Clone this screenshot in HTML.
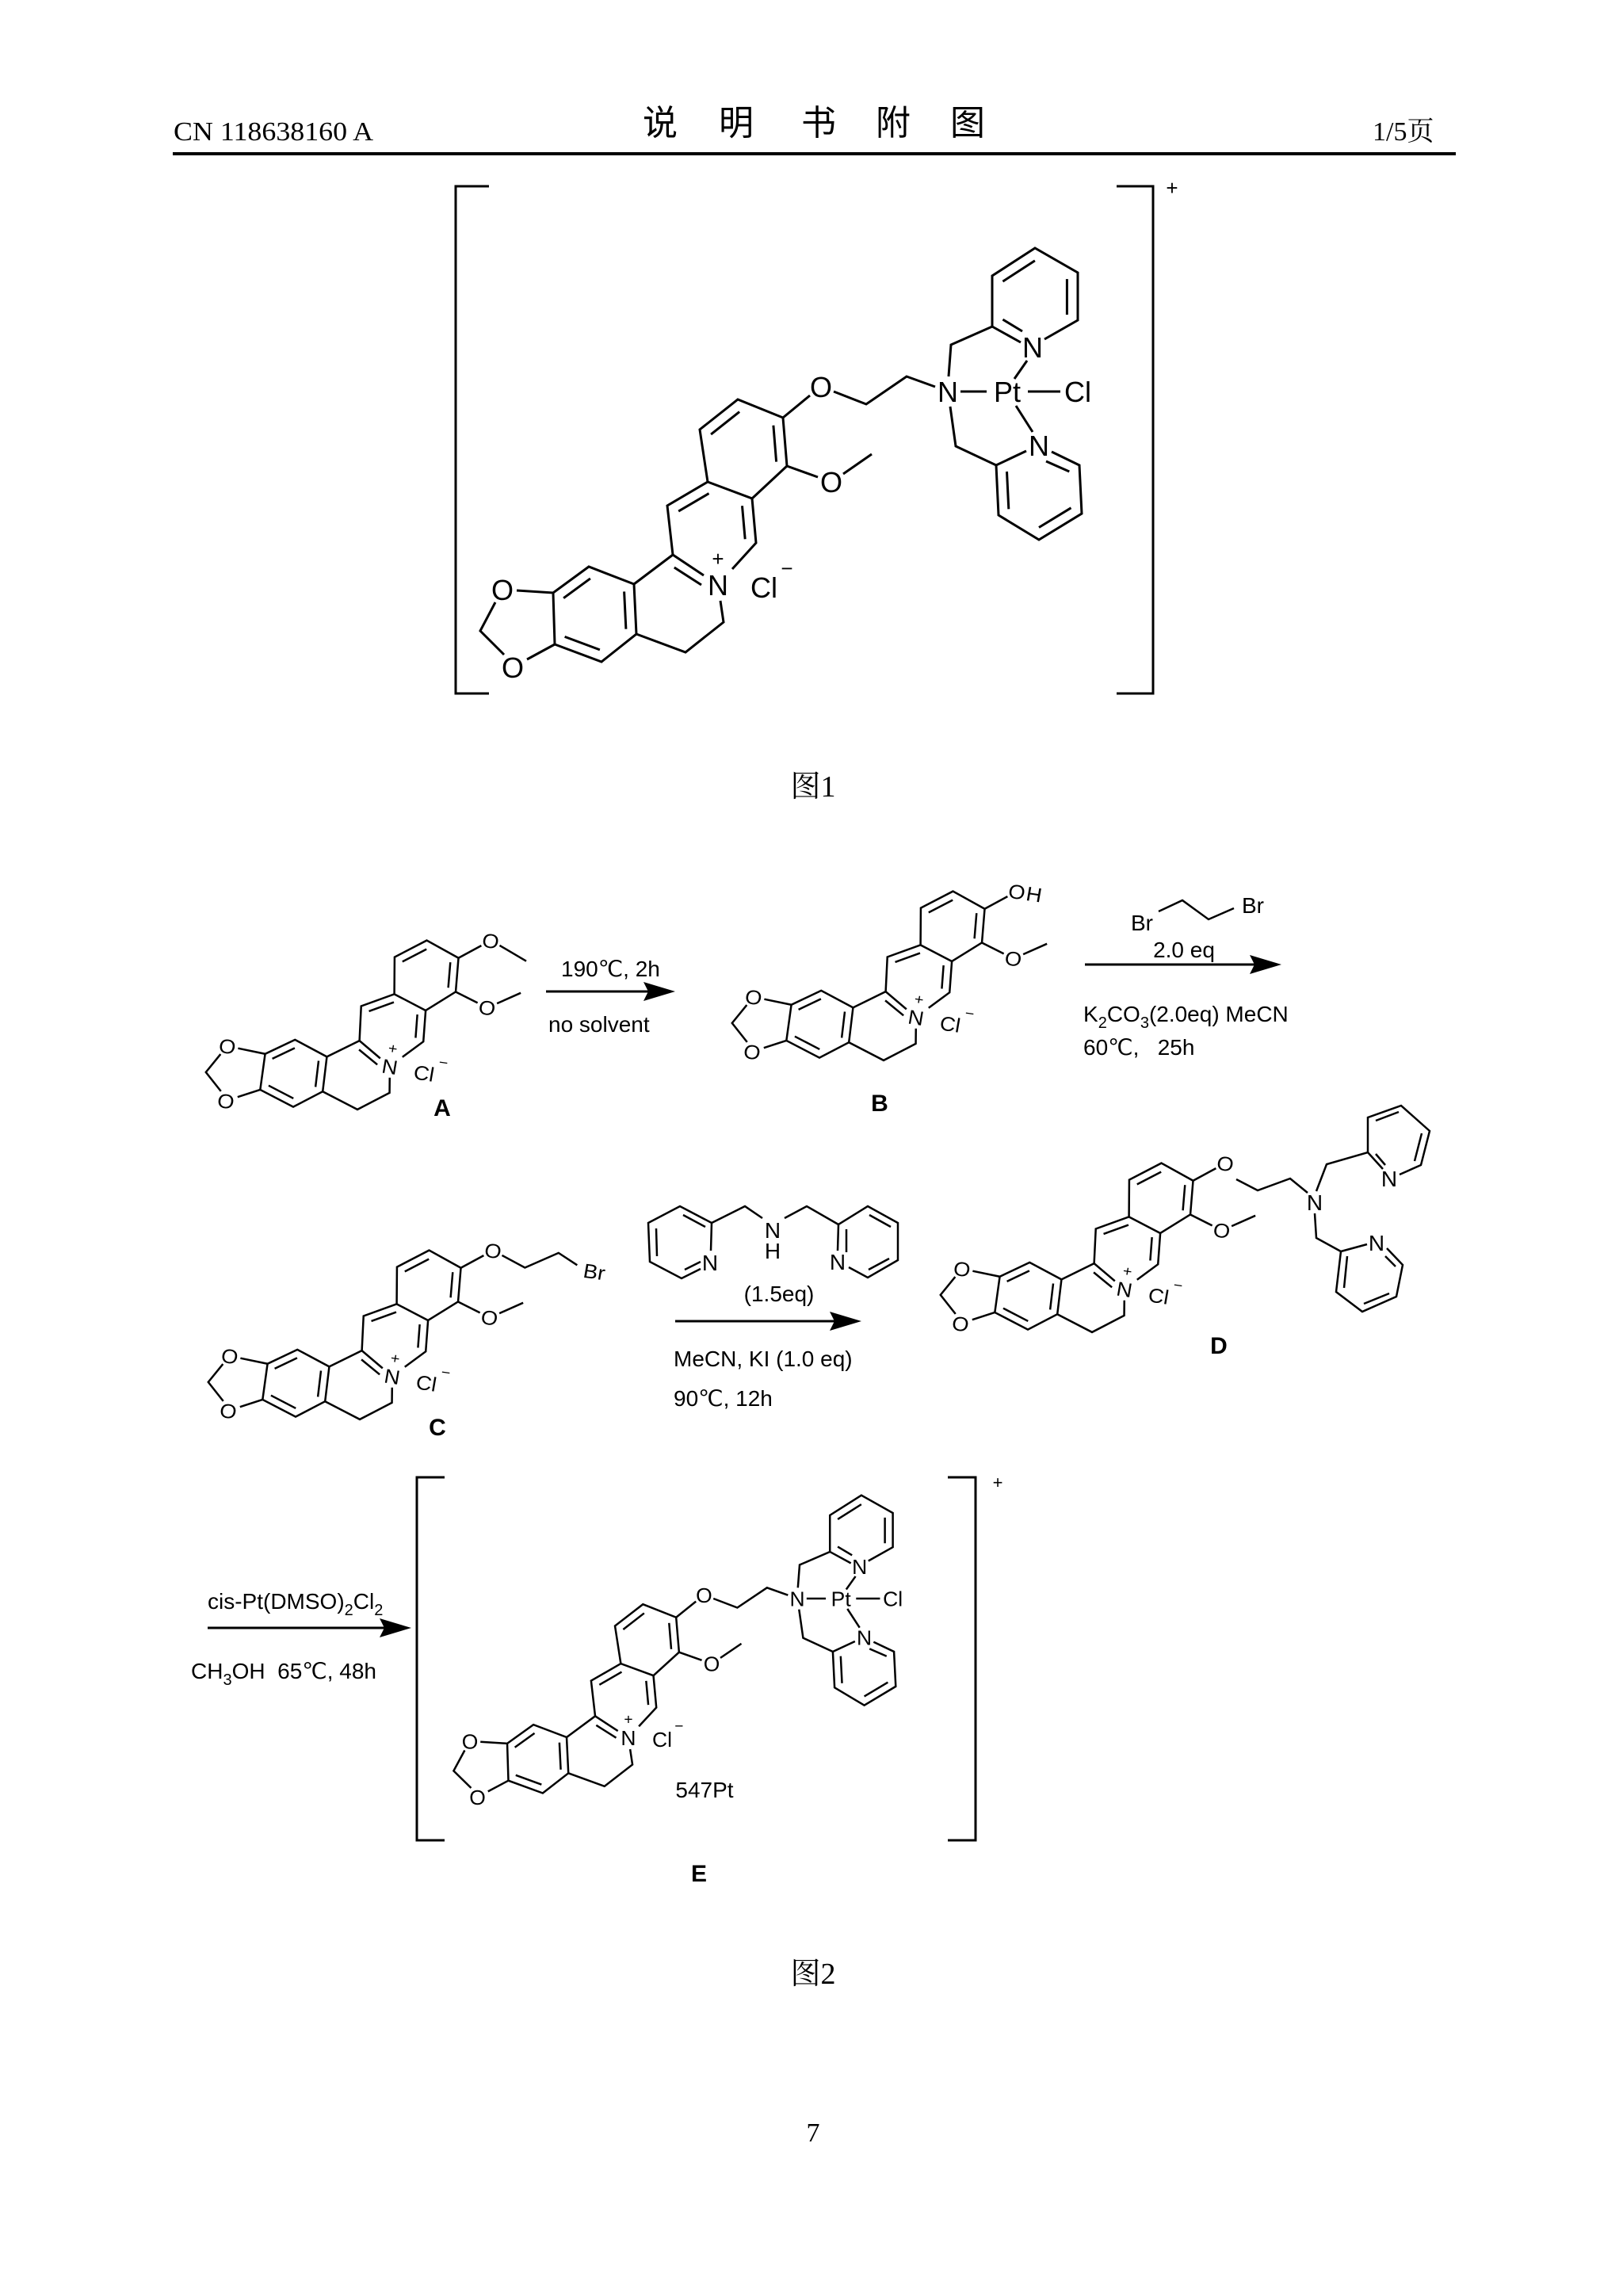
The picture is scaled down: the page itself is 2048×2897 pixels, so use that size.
<!DOCTYPE html>
<html><head><meta charset="utf-8"><style>
html,body{margin:0;padding:0;background:#fff;}
svg{display:block;}
line,polyline,polygon.b,path{vector-effect:non-scaling-stroke;}
.t{font-family:"Liberation Sans",sans-serif;fill:#000;stroke:#fff;stroke-width:7px;paint-order:stroke;stroke-linejoin:round;}
.r{font-family:"Liberation Sans",sans-serif;fill:#000;}
</style></head><body>
<svg width="2048" height="2897" viewBox="0 0 2048 2897" xmlns="http://www.w3.org/2000/svg">
<defs>
<g id="core" fill="none" stroke="#000">
 <!-- ring A -->
 <polyline points="652,745 698,748 743,715 800,737 803,800 759,835 700,813 698,748"/>
 <line x1="744.9" y1="729.9" x2="711.1" y2="754.7"/>
 <line x1="712.6" y1="803.4" x2="756.9" y2="819.9"/>
 <line x1="787.6" y1="746.4" x2="789.9" y2="793.7"/>
 <!-- dioxole -->
 <polyline points="625,760 606,796 636,826"/>
 <line x1="665" y1="832" x2="700" y2="813"/>
 <!-- ring B -->
 <polyline points="800,737 849,700 888,726"/>
 <polyline points="909,758 913,785 865,823 803,800"/>
 <line x1="850.8" y1="716" x2="885" y2="738"/>
 <!-- ring C -->
 <polyline points="849,700 842,638 893,608 949,629 954,685 924,718"/>
 <line x1="856.2" y1="645.1" x2="894.5" y2="622.6"/>
 <line x1="936.5" y1="638.3" x2="940.2" y2="680.3"/>
 <!-- ring D -->
 <polyline points="893,608 883,542 931,504 988,527 993,588 949,629"/>
 <line x1="897.1" y1="548.1" x2="933.1" y2="519.6"/>
 <line x1="975.9" y1="536.8" x2="979.6" y2="582.6"/>
 <line x1="988" y1="527" x2="1022" y2="499"/>
 <line x1="993" y1="588" x2="1032" y2="602"/>
 <line x1="1064" y1="598" x2="1100" y2="573"/>
 <g stroke="none">
 <text class="r" x="634" y="757" font-size="36" text-anchor="middle">O</text>
 <text class="r" x="647" y="855" font-size="36" text-anchor="middle">O</text>
 <text class="r" x="1036" y="501" font-size="36" text-anchor="middle">O</text>
 <text class="r" x="1049" y="621" font-size="36" text-anchor="middle">O</text>
 <text class="r" x="906" y="751" font-size="36" text-anchor="middle">N</text>
 <text class="r" x="906" y="714" font-size="26" text-anchor="middle">+</text>
 <text class="r" x="964" y="754" font-size="36" text-anchor="middle">Cl</text>
 <text class="r" x="993" y="726" font-size="26" text-anchor="middle">−</text>
 </g>
</g>
<g id="ptail" fill="none" stroke="#000">
 <polyline points="1052,494 1093,510 1144,475 1180,488"/>
 <line x1="1212" y1="494" x2="1245" y2="494"/>
 <line x1="1297" y1="494" x2="1338" y2="494"/>
 <polyline points="1197,475 1200,435 1252,412 1288,432"/>
 <polyline points="1318,428 1360,404 1360,344 1306,313 1252,348 1252,412"/>
 <line x1="1265.4" y1="403.1" x2="1290" y2="418"/>
 <line x1="1265.4" y1="355.1" x2="1305.9" y2="328.9"/>
 <line x1="1346.4" y1="352.1" x2="1346.4" y2="397.1"/>
 <line x1="1296" y1="455" x2="1280" y2="478"/>
 <polyline points="1199,513 1206,563 1257,587 1295,569"/>
 <polyline points="1327,570 1362,587 1365,648 1311,681 1260,650 1257,587"/>
 <line x1="1320" y1="582" x2="1349.3" y2="595"/>
 <line x1="1351.5" y1="640.8" x2="1311" y2="665.5"/>
 <line x1="1272.8" y1="642.3" x2="1270.5" y2="595"/>
 <line x1="1303" y1="545" x2="1282" y2="512"/>
 <g stroke="none">
 <text class="r" x="1196" y="507" font-size="36" text-anchor="middle">N</text>
 <text class="r" x="1271" y="507" font-size="36" text-anchor="middle">Pt</text>
 <text class="r" x="1360" y="507" font-size="36" text-anchor="middle">Cl</text>
 <text class="r" x="1303" y="451" font-size="36" text-anchor="middle">N</text>
 <text class="r" x="1311" y="575" font-size="36" text-anchor="middle">N</text>
 </g>
</g>
<polygon id="ah" points="0,0 -40,-12 -34,0 -40,12" fill="#000"/>
</defs>

<!-- header -->
<text x="219" y="177" font-family="'Liberation Serif',serif" font-size="34" textLength="252" lengthAdjust="spacingAndGlyphs">CN 118638160 A</text>
<g font-family="'Liberation Sans','Noto Sans CJK SC',sans-serif" font-size="44" text-anchor="middle">
<text x="833" y="170">说</text><text x="929" y="170">明</text><text x="1033" y="170">书</text><text x="1127" y="170">附</text><text x="1221" y="170">图</text>
</g>
<text x="1732" y="177" font-family="'Liberation Serif','Noto Serif CJK SC',serif" font-size="34">1/5<tspan font-family="'Noto Serif CJK SC',serif">页</tspan></text>
<rect x="218" y="192" width="1619" height="4" fill="#000"/>

<!-- Fig 1 -->
<g fill="none" stroke="#000" stroke-width="3">
 <polyline points="617,235 575,235 575,875 617,875"/>
 <polyline points="1409,235 1455,235 1455,875 1409,875"/>
</g>
<text class="r" x="1479" y="246" font-size="26" text-anchor="middle">+</text>
<g stroke-width="3">
 <use href="#ptail"/>
 <use href="#core"/>
</g>
<text x="1026" y="1005" font-family="'Liberation Serif','Noto Serif CJK SC',serif" font-size="38" text-anchor="middle"><tspan font-family="'Noto Serif CJK SC',serif">图</tspan>1</text>

<!-- A -->
<g transform="translate(287,1320) scale(0.76,0.7) rotate(9) translate(-634,-744)" stroke-width="2.5">
 <line x1="1052" y1="494" x2="1100" y2="515" stroke="#000" fill="none"/>
 <use href="#core"/>
</g>
<text class="r" x="558" y="1408" font-size="30" font-weight="bold" text-anchor="middle">A</text>

<!-- arrow 1 -->
<line x1="689" y1="1251" x2="830" y2="1251" stroke="#000" stroke-width="3"/>
<use href="#ah" transform="translate(852,1251)"/>
<text class="r" x="708" y="1232" font-size="28">190℃, 2h</text>
<text class="r" x="692" y="1302" font-size="28">no solvent</text>

<!-- B -->
<g transform="translate(951,1258) scale(0.76,0.7) rotate(9) translate(-634,-744)" stroke-width="2.5">
 <text class="r" x="1052" y="501" font-size="36">H</text>
 <use href="#core"/>
</g>
<text class="r" x="1110" y="1402" font-size="30" font-weight="bold" text-anchor="middle">B</text>

<!-- arrow 2 -->
<polyline points="1462,1150 1492,1136 1525,1160 1557,1146" fill="none" stroke="#000" stroke-width="2.5"/>
<text class="r" x="1441" y="1174" font-size="28" text-anchor="middle">Br</text>
<text class="r" x="1581" y="1152" font-size="28" text-anchor="middle">Br</text>
<text class="r" x="1494" y="1208" font-size="28" text-anchor="middle">2.0 eq</text>
<line x1="1369" y1="1217" x2="1595" y2="1217" stroke="#000" stroke-width="3"/>
<use href="#ah" transform="translate(1617,1217)"/>
<text class="r" x="1367" y="1289" font-size="28">K<tspan font-size="20" dy="8">2</tspan><tspan dy="-8">CO</tspan><tspan font-size="20" dy="8">3</tspan><tspan dy="-8">(2.0eq)  MeCN</tspan></text>
<text class="r" x="1367" y="1331" font-size="28" xml:space="preserve">60℃,   25h</text>

<!-- C -->
<g transform="translate(290,1711) scale(0.76,0.7) rotate(9) translate(-634,-744)" stroke-width="2.5">
 <polyline points="1052,494 1093,510 1144,475 1178,492" fill="none" stroke="#000"/>
 <text class="r" x="1208" y="512" font-size="36" text-anchor="middle">Br</text>
 <use href="#core"/>
</g>
<text class="r" x="552" y="1811" font-size="30" font-weight="bold" text-anchor="middle">C</text>

<!-- amine reagent -->
<g fill="none" stroke="#000" stroke-width="2.5">
 <polyline points="897,1578 898,1543 858,1522 818,1543 820,1592 860,1613 884,1601"/>
 <line x1="828" y1="1550" x2="829" y2="1585"/>
 <line x1="862" y1="1533" x2="890" y2="1548"/>
 <line x1="864" y1="1602" x2="884" y2="1592"/>
 <polyline points="898,1543 940,1522 962,1537"/>
 <polyline points="990,1537 1018,1522 1058,1545"/>
 <polyline points="1057,1578 1058,1545 1095,1522 1133,1543 1133,1590 1095,1612 1071,1599"/>
 <line x1="1068" y1="1551" x2="1068" y2="1580"/>
 <line x1="1097" y1="1533" x2="1124" y2="1548"/>
 <line x1="1122" y1="1588" x2="1096" y2="1602"/>
</g>
<g class="r" font-size="28" text-anchor="middle">
 <text x="896" y="1603">N</text><text x="975" y="1562">N</text><text x="975" y="1588">H</text><text x="1057" y="1602">N</text>
</g>
<text class="r" x="983" y="1642" font-size="28" text-anchor="middle">(1.5eq)</text>
<line x1="852" y1="1667" x2="1065" y2="1667" stroke="#000" stroke-width="3"/>
<use href="#ah" transform="translate(1087,1667)"/>
<text class="r" x="850" y="1724" font-size="28">MeCN, KI (1.0 eq)</text>
<text class="r" x="850" y="1774" font-size="28">90℃, 12h</text>

<!-- D -->
<g fill="none" stroke="#000" stroke-width="2.5">
 <polyline points="1560,1488 1587,1502 1628,1487 1650,1505"/>
 <polyline points="1661,1503 1674,1469 1726,1454 1745,1475"/>
 <polyline points="1766,1482 1793,1470 1804,1427 1768,1395 1726,1410 1726,1454"/>
 <line x1="1736" y1="1456" x2="1748" y2="1470"/>
 <line x1="1736" y1="1414" x2="1765" y2="1403"/>
 <line x1="1794" y1="1430" x2="1785" y2="1465"/>
 <polyline points="1659,1531 1661,1562 1692,1579 1725,1570"/>
 <polyline points="1750,1575 1770,1596 1762,1636 1719,1655 1686,1630 1692,1579"/>
 <line x1="1748" y1="1585" x2="1761" y2="1598"/>
 <line x1="1753" y1="1632" x2="1721" y2="1645"/>
 <line x1="1696" y1="1625" x2="1700" y2="1585"/>
</g>
<g class="r" font-size="28" text-anchor="middle">
 <text x="1659" y="1527">N</text><text x="1753" y="1497">N</text><text x="1737" y="1578">N</text>
</g>
<g transform="translate(1214,1601) scale(0.76,0.7) rotate(9) translate(-634,-744)" stroke-width="2.5">
 <use href="#core"/>
</g>
<text class="r" x="1538" y="1708" font-size="30" font-weight="bold" text-anchor="middle">D</text>

<!-- arrow 4 -->
<text class="r" x="262" y="2030" font-size="28">cis-Pt(DMSO)<tspan font-size="20" dy="8">2</tspan><tspan dy="-8">Cl</tspan><tspan font-size="20" dy="8">2</tspan></text>
<line x1="262" y1="2054" x2="497" y2="2054" stroke="#000" stroke-width="3"/>
<use href="#ah" transform="translate(519,2054)"/>
<text class="r" x="241" y="2118" font-size="28" xml:space="preserve">CH<tspan font-size="20" dy="8">3</tspan><tspan dy="-8">OH  65℃, 48h</tspan></text>

<!-- E -->
<g fill="none" stroke="#000" stroke-width="3">
 <polyline points="561,1864 526,1864 526,2322 561,2322"/>
 <polyline points="1196,1864 1231,1864 1231,2322 1196,2322"/>
</g>
<text class="r" x="1259" y="1878" font-size="22" text-anchor="middle">+</text>
<g transform="translate(593,2197) scale(0.735,0.72) translate(-634,-744)" stroke-width="2.5">
 <use href="#ptail"/>
 <use href="#core"/>
</g>
<text class="r" x="889" y="2268" font-size="28" text-anchor="middle">547Pt</text>
<text class="r" x="882" y="2374" font-size="30" font-weight="bold" text-anchor="middle">E</text>

<text x="1026" y="2503" font-family="'Liberation Serif','Noto Serif CJK SC',serif" font-size="38" text-anchor="middle"><tspan font-family="'Noto Serif CJK SC',serif">图</tspan>2</text>
<text x="1026" y="2702" font-family="'Liberation Serif',serif" font-size="34" text-anchor="middle">7</text>
</svg>
</body></html>
